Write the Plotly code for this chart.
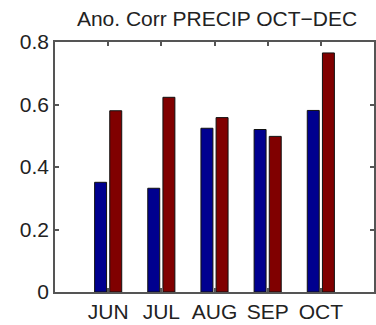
import plotly.graph_objects as go

months = ["JUN", "JUL", "AUG", "SEP", "OCT"]
series_a = [0.351, 0.332, 0.524, 0.520, 0.581]
series_b = [0.580, 0.623, 0.558, 0.498, 0.765]
y_ticks = [0, 0.2, 0.4, 0.6, 0.8]
y_tick_labels = ["0", "0.2", "0.4", "0.6", "0.8"]
title_text = "Ano. Corr PRECIP OCT\u2212DEC"

xs = list(range(len(months)))

fig = go.Figure()
fig.add_trace(go.Bar(x=xs, y=series_a, width=0.225, offset=-0.255,
                     marker=dict(color="#00008F", line=dict(color="#111111", width=1))))
fig.add_trace(go.Bar(x=xs, y=series_b, width=0.225, offset=0.03,
                     marker=dict(color="#800000", line=dict(color="#111111", width=1))))

font = dict(family="Liberation Sans, Arial, sans-serif", size=21, color="#222222")
axis_common = dict(showline=True, linecolor="#555555", linewidth=1.5, mirror="ticks",
                   ticks="inside", ticklen=4, tickcolor="#555555", tickwidth=1.5,
                   showgrid=False, zeroline=False, tickfont=font, automargin=False)

fig.update_layout(
    width=376, height=325,
    margin=dict(l=55, r=2, t=42, b=33, autoexpand=False),
    paper_bgcolor="white", plot_bgcolor="white",
    showlegend=False, barmode="overlay",
    title=dict(text=title_text, x=0.508, xanchor="center", xref="paper",
               y=1 - 19 / 325, yref="container", yanchor="middle",
               font=dict(family="Liberation Sans, Arial, sans-serif", size=21, color="#222222")),
    xaxis=dict(range=[-1, 5], tickvals=xs, ticktext=months, **axis_common),
    yaxis=dict(range=[0, 0.8], tickvals=y_ticks, ticktext=y_tick_labels, **axis_common),
)

fig.write_html("out.html", config={"displayModeBar": False},
               post_script="document.body.style.margin='0';document.body.style.padding='0';document.body.style.overflow='hidden';")
